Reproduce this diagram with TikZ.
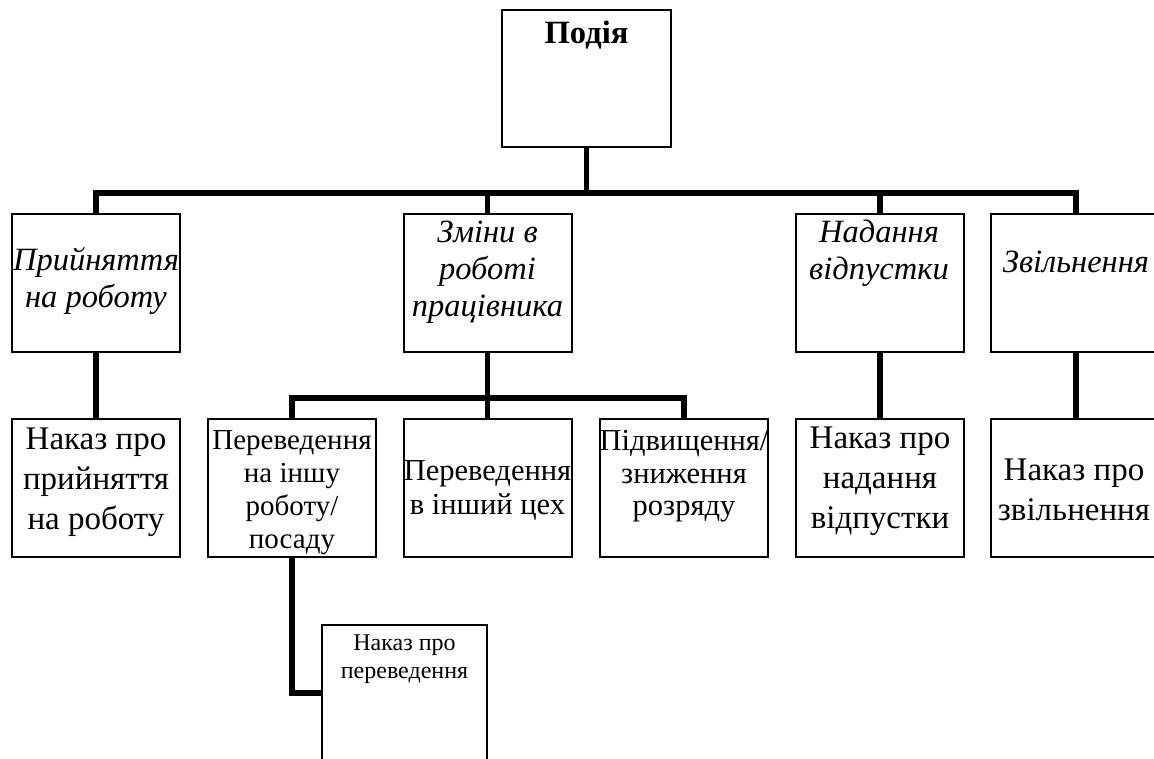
\documentclass[tikz,border=0pt]{standalone}
\usepackage{fontspec}
\setmainfont{Liberation Serif}
\begin{document}
\begin{tikzpicture}[x=1pt,y=-1pt,
  box/.style={draw,line width=2pt,inner sep=0pt,minimum width=168pt,minimum height=138pt},
  conn/.style={line width=5.5pt,line join=miter},
  txt/.style={inner sep=0pt,align=center,execute at begin node=\strut,execute at end node=\strut},
  lvA/.style={txt,font=\fontsize{32.5}{37}\selectfont\itshape},
  lvB/.style={txt,font=\fontsize{33}{40}\selectfont},
  lvC/.style={txt,font=\fontsize{29}{33}\selectfont},
  lvD/.style={txt,font=\fontsize{30.5}{34}\selectfont},
  lvG/.style={txt,font=\fontsize{30.5}{32.5}\selectfont},
  lvF/.style={txt,font=\fontsize{24}{28}\selectfont}
]
\useasboundingbox (0,0) rectangle (1154,758);

% boxes
\node[box,minimum width=169pt,minimum height=137pt] (p0) at (586.5,78.5) {};
\node[box] (a1) at (96,283) {};
\node[box] (a2) at (487.5,283) {};
\node[box] (a3) at (880,283) {};
\node[box,minimum width=170pt] (a4) at (1076,283) {};
\node[box] (b1) at (96,488) {};
\node[box] (b2) at (292,488) {};
\node[box] (b3) at (487.5,488) {};
\node[box] (b4) at (684,488) {};
\node[box] (b5) at (880,488) {};
\node[box,minimum width=170pt] (b6) at (1076,488) {};
\node[box,minimum width=165pt,minimum height=136pt] (c1) at (404.5,693) {};

% texts
\node[inner sep=0pt,anchor=base,font=\fontsize{32.5}{37}\selectfont\bfseries] (t0) at (586.5,43) {Подія};
\node[lvA] (ta1) at (96,283) {Прийняття\\на роботу};
\node[lvA] (ta2) at (487.5,274) {Зміни в\\роботі\\працівника};
\node[lvA] (ta3) at (879,255) {Надання\\відпустки};
\node[inner sep=0pt,anchor=base,font=\fontsize{32.5}{37}\selectfont\itshape] (ta4) at (1076,272) {Звільнення};
\node[lvB] (tb1) at (96,485) {Наказ про\\прийняття\\на роботу};
\node[lvC] (tb2) at (292,494) {Переведення\\на іншу\\роботу/\\посаду};
\node[lvD] (tb3) at (487.5,493) {Переведення\\в інший цех};
\node[lvG] (tb4) at (684,478) {Підвищення/\\зниження\\розряду};
\node[lvB] (tb5) at (880,484) {Наказ про\\надання\\відпустки};
\node[lvB] (tb6) at (1074,496) {Наказ про\\звільнення};
\node[lvF] (tc1) at (404.5,661) {Наказ про\\переведення};

% connectors
\coordinate (j0) at (586.5,193);
\coordinate (j2) at (487.5,398);
\draw[conn] (p0.south) -- (j0);
\draw[conn] (a1.north) |- (j0);
\draw[conn] (a2.north) |- (j0);
\draw[conn] (a3.north) |- (j0);
\draw[conn] (a4.north) |- (j0);
\draw[conn] (a1.south) -- (b1.north);
\draw[conn] (a2.south) -- (b3.north);
\draw[conn] (b2.north) |- (j2) -| (b4.north);
\draw[conn] (a3.south) -- (b5.north);
\draw[conn] (a4.south) -- (b6.north);
\draw[conn] (b2.south) |- (c1.west);
\end{tikzpicture}
\end{document}
